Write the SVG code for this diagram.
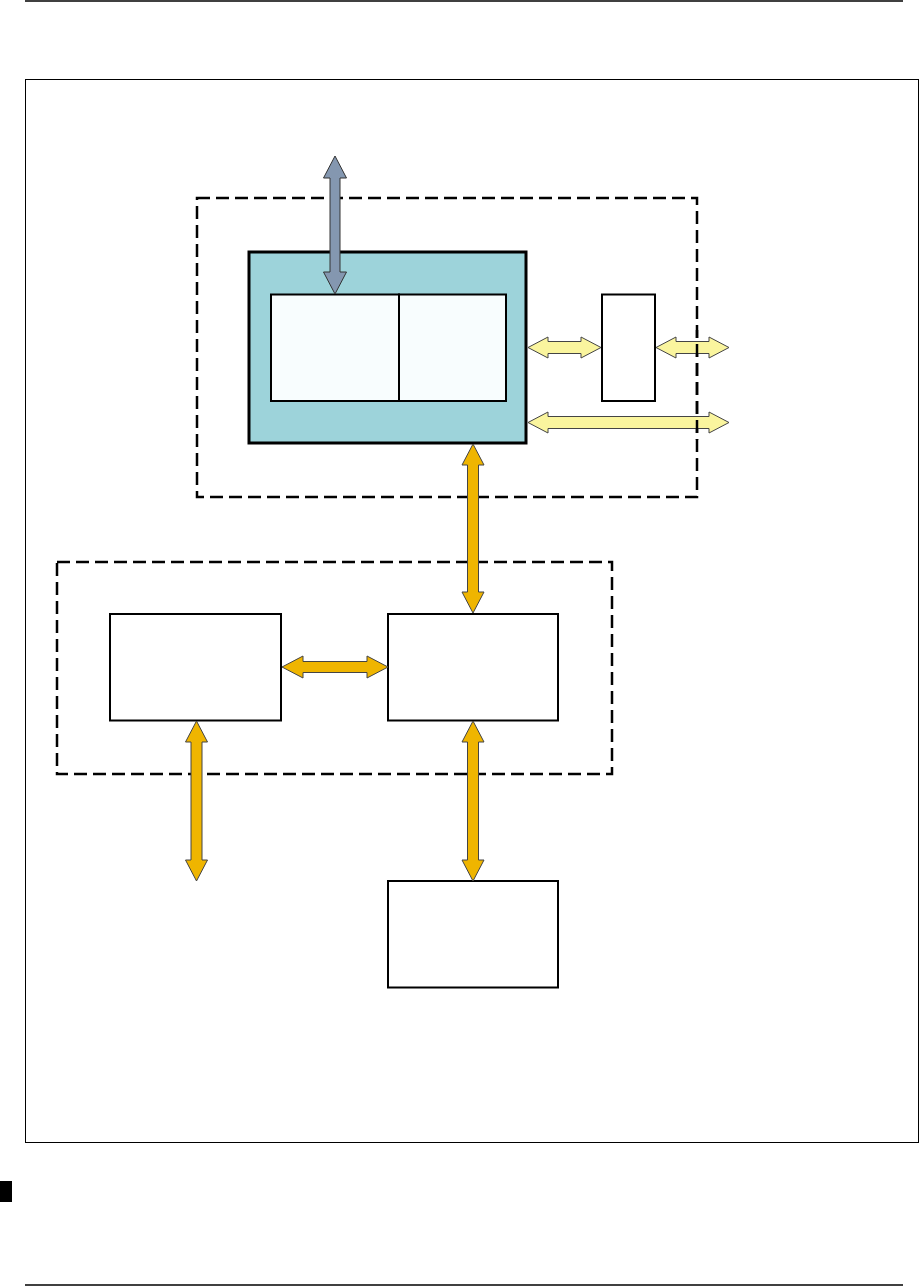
<svg xmlns="http://www.w3.org/2000/svg" width="921" height="1286" viewBox="0 0 921 1286">
<style>
.rule{stroke:#000;stroke-width:1.5}
.frame{fill:none;stroke:#000;stroke-width:1}
.group{fill:none;stroke:#000;stroke-width:2.5;stroke-dasharray:13 6}
.box{fill:#fff;stroke:#000;stroke-width:2}
.inner{fill:#f8fdfe;stroke:#000;stroke-width:2}
.teal{fill:#9dd3da;stroke:#000;stroke-width:3}
.gray{fill:#8497b0;stroke:#333;stroke-width:1}
.gold{fill:#efb500;stroke:#444;stroke-width:1}
.pale{fill:#faf59e;stroke:#444;stroke-width:1}
</style>
<rect width="921" height="1286" fill="#fff"/>
<line class="rule" x1="25" y1="1" x2="903" y2="1"/>
<line class="rule" x1="25" y1="1285" x2="903" y2="1285"/>
<rect class="frame" x="25.5" y="79.5" width="893" height="1063"/>
<rect x="0" y="1181" width="12" height="21" fill="#000"/>
<g id="group-upper"><rect class="group" x="197" y="198" width="500" height="299"/></g>
<g id="group-lower"><rect class="group" x="57" y="562" width="555" height="212"/></g>
<g id="node-main">
<rect class="teal" x="249" y="252" width="277" height="191"/>
<rect class="inner" x="271" y="294.5" width="128" height="106.5"/>
<rect class="inner" x="399" y="294.5" width="107" height="106.5"/>
</g>
<g id="node-small"><rect class="box" x="602" y="294.5" width="53" height="106.5"/></g>
<g id="node-left"><rect class="box" x="110" y="614" width="171" height="106.5"/></g>
<g id="node-right"><rect class="box" x="388" y="614" width="170" height="106.5"/></g>
<g id="node-bottom"><rect class="box" x="388" y="881" width="170" height="106.5"/></g>
<g id="connectors">
<polygon class="gray" points="335,156 346.5,178 340,178 340,272 346.5,272 335,294 323.5,272 330,272 330,178 323.5,178"/>
<polygon class="gold" points="473,444 484,465 478.5,465 478.5,592 484,592 473,613 462,592 467.5,592 467.5,465 462,465"/>
<polygon class="gold" points="196.5,721 207.5,742 202,742 202,860 207.5,860 196.5,881 185.5,860 191,860 191,742 185.5,742"/>
<polygon class="gold" points="473,721 484,742 478.5,742 478.5,860 484,860 473,881 462,860 467.5,860 467.5,742 462,742"/>
<polygon class="gold" points="282,667 303,656 303,661.5 367,661.5 367,656 388,667 367,678 367,672.5 303,672.5 303,678"/>
<polygon class="pale" points="528,347.5 548,337 548,341.5 581,341.5 581,337 601,347.5 581,358 581,353.5 548,353.5 548,358"/>
<polygon class="pale" points="656,347.5 676,337 676,341.5 709,341.5 709,337 729,347.5 709,358 709,353.5 676,353.5 676,358"/>
<polygon class="pale" points="528,422.5 548,412 548,416.5 709,416.5 709,412 729,422.5 709,433 709,428.5 548,428.5 548,433"/>
</g>
<line x1="697" y1="330" x2="697" y2="440" stroke="#000" stroke-width="2.5" stroke-dasharray="13 6" stroke-dashoffset="5"/>
</svg>
